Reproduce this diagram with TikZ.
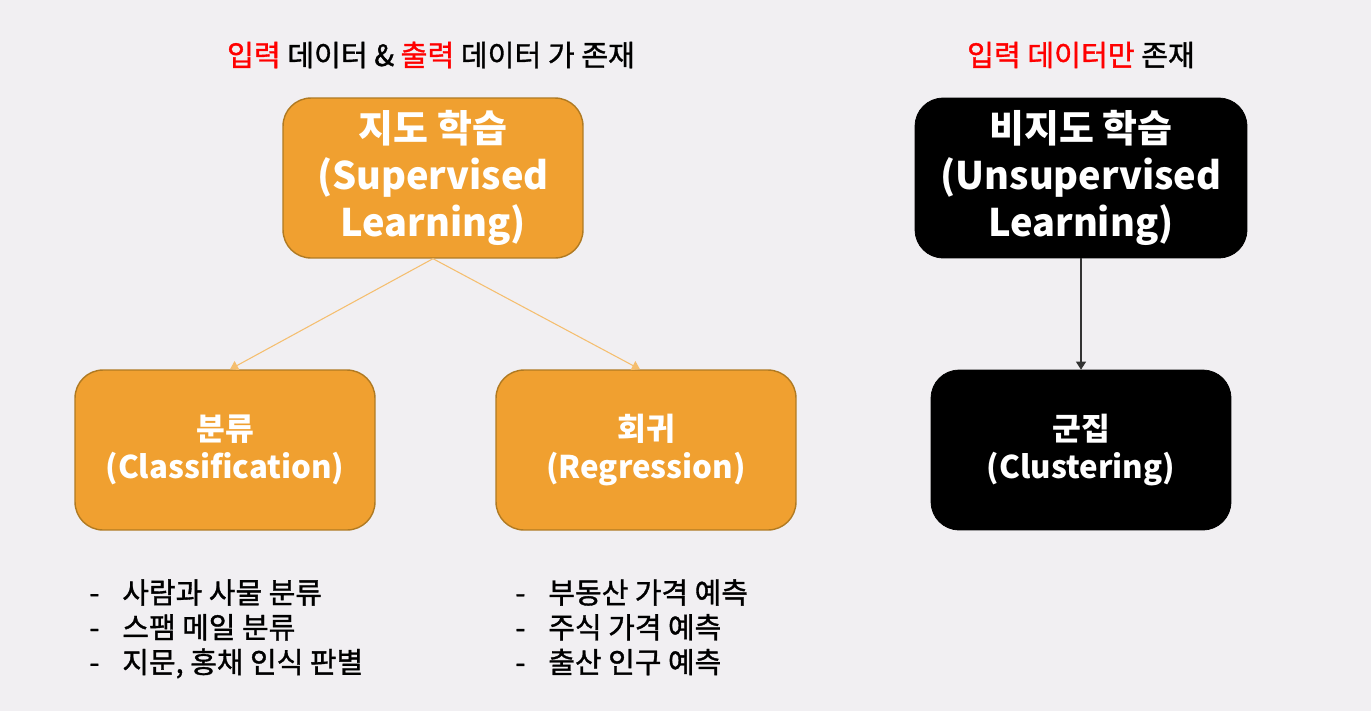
\documentclass[tikz,border=0pt]{standalone}
\usepackage{fontspec}
\setmainfont{Noto Sans CJK KR}
\newfontfamily\krmedium[RawFeature={embolden=1.2}]{Noto Sans CJK KR}
\usetikzlibrary{arrows.meta,positioning}

\definecolor{slidebg}{HTML}{F1EFF2}
\definecolor{boxorange}{HTML}{F0A030}
\definecolor{boxedge}{HTML}{B07A22}
\definecolor{lineorange}{HTML}{F5BE6E}
\definecolor{hotred}{HTML}{FF0000}

\newcommand{\dashitem}[1]{\makebox[0.66cm][l]{-}#1}

\begin{document}
\begin{tikzpicture}[
  x=0.02cm, y=-0.02cm,
  learn/.style={
    rounded corners=0.56cm,
    minimum width=6cm,
    minimum height=3.2cm,
    align=center,
    inner sep=0pt,
    text=white,
    font=\fontsize{21.6}{26.6}\selectfont\bfseries
  },
  task/.style={learn, font=\fontsize{17.8}{21.5}\selectfont\bfseries},
  sup/.style={draw=boxedge, line width=.8pt, fill=boxorange},
  unsup/.style={draw=black, fill=black},
  heading/.style={font=\fontsize{16.6}{19}\selectfont\krmedium, inner sep=0pt},
  examples/.style={font=\fontsize{16.5}{19.8}\selectfont\krmedium, align=left, inner sep=0pt, anchor=north west},
  split/.style={-{Triangle[length=1.6mm,width=2mm]}, draw=lineorange, line width=.6pt},
  down/.style={-{Triangle[length=1.6mm,width=2mm]}, draw=black!80, line width=.6pt}
]

\useasboundingbox[fill=slidebg] (0,0) rectangle (1371,711);

% headings
\node[heading] (suphead) at (431,55)
  {\textcolor{hotred}{입력} 데이터 \& \textcolor{hotred}{출력} 데이터 가 존재};
\node[heading] (unsuphead) at (1081,55)
  {\textcolor{hotred}{입력 데이터만} 존재};

% learning types
\node[learn, sup] (supervised) at (433,178)
  {지도 학습\\(Supervised\\Learning)};
\node[learn, unsup, minimum width=6.64cm] (unsupervised) at (1081,178)
  {비지도 학습\\(Unsupervised\\Learning)};

% tasks
\node[task, sup] (classify) at (225,450) {분류\\(Classification)};
\node[task, sup] (regress) at (646,450) {회귀\\(Regression)};
\node[task, unsup] (cluster) at (1081,450) {군집\\(Clustering)};

\coordinate (classtip) at ([xshift=0.1cm]classify.north);
\coordinate (regtip) at ([xshift=-0.12cm]regress.north);
\draw[split] (supervised.south) -- (classtip);
\draw[split] (supervised.south) -- (regtip);
\draw[down] (unsupervised.south) -- (cluster.north);

% examples
\node[examples] (classlist) at (89,579)
  {\dashitem{사람과 사물 분류}\\\dashitem{스팸 메일 분류}\\\dashitem{지문, 홍채 인식 판별}};
\node[examples] (reglist) at (515,579)
  {\dashitem{부동산 가격 예측}\\\dashitem{주식 가격 예측}\\\dashitem{출산 인구 예측}};
\end{tikzpicture}
\end{document}
